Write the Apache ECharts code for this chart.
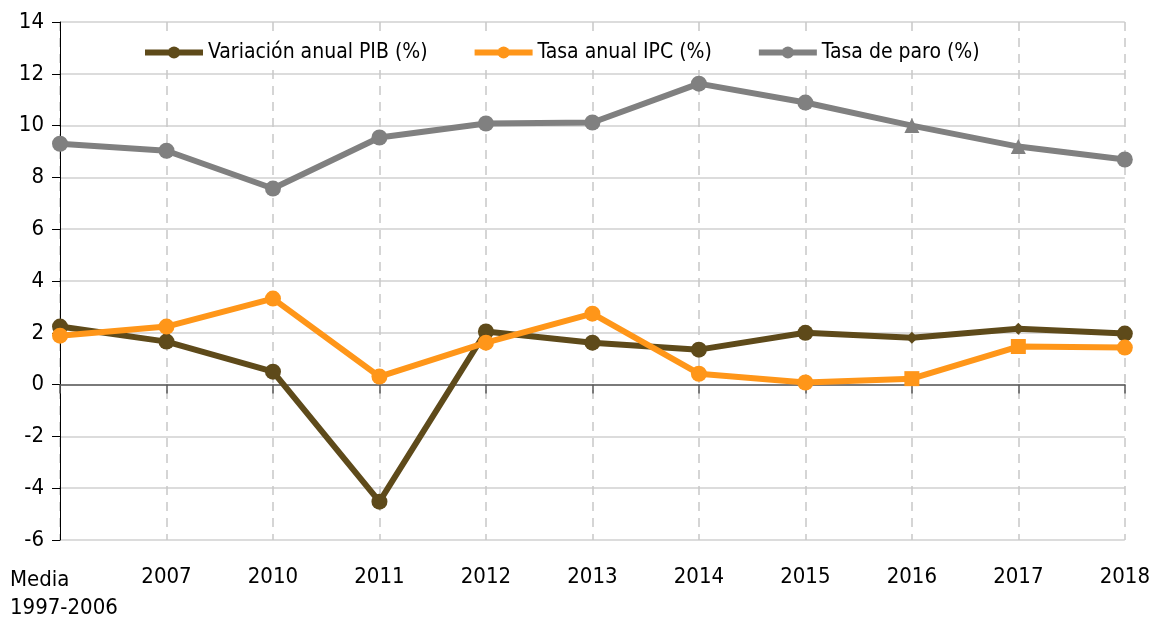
<!DOCTYPE html>
<html>
<head>
<meta charset="utf-8">
<script src="https://cdn.jsdelivr.net/npm/echarts@6/dist/echarts.min.js"></script>
<style>
  html, body { margin: 0; padding: 0; background: #fff; }
  #chart { width: 1153px; height: 619px; }
</style>
</head>
<body>
<div id="chart"></div>
<script>
var categories = ['Media\n1997-2006', '2007', '2010', '2011', '2012', '2013', '2014', '2015', '2016', '2017', '2018'];
var pib = [2.24, 1.66, 0.5, -4.52, 2.05, 1.62, 1.35, 2.0, 1.81, 2.16, 1.97];
var ipc = [1.89, 2.24, 3.32, 0.31, 1.62, 2.74, 0.42, 0.08, 0.23, 1.47, 1.43];
var paro = [9.3, 9.03, 7.57, 9.54, 10.08, 10.12, 11.62, 10.89, 10.0, 9.19, 8.69];
var yTicks = [-6, -4, -2, 0, 2, 4, 6, 8, 10, 12, 14];

var FONT = '"Liberation Sans Narrow", "DejaVu Sans Condensed", sans-serif';
var FS = 22;

// puntos 2016 y 2017 con otro marcador
function conMarcas(vals, simbolo, size) {
  return vals.map(function (v, i) {
    if (categories[i] === '2016' || categories[i] === '2017') {
      return { value: v, symbol: simbolo, symbolSize: size };
    }
    return v;
  });
}

var myChart = echarts.init(document.getElementById('chart'));
var option = {
  animation: false,
  backgroundColor: '#fff',
  textStyle: { fontFamily: FONT },
  legend: {
    top: 36,
    left: 130,
    padding: [6, 12],
    backgroundColor: '#fff',
    itemWidth: 58,
    itemHeight: 15,
    itemGap: 44,
    lineStyle: { width: 6 },
    textStyle: { fontSize: 21, color: '#000', fontFamily: FONT },
    data: ['Variación anual PIB (%)', 'Tasa anual IPC (%)', 'Tasa de paro (%)']
  },
  grid: { left: 60, right: 26, top: 22, bottom: 79 },
  xAxis: [{
    type: 'category',
    position: 'bottom',
    boundaryGap: false,
    data: categories,
    axisLine: { show: false, onZero: false },
    axisTick: { show: false },
    splitLine: { show: true, interval: 0, lineStyle: { color: '#c8c8c8', type: [9, 7], width: 1.5 } },
    axisLabel: {
      interval: 0,
      margin: 26,
      fontSize: FS,
      color: '#000',
      fontFamily: FONT,
      formatter: function (v, i) {
        if (i === 0) {
          return v.split('\n').map(function (s) { return '{a|' + s + '}'; }).join('\n');
        }
        return v;
      },
      rich: {
        a: { width: 100, align: 'left', fontSize: FS, color: '#000', fontFamily: FONT, lineHeight: 28 }
      }
    }
  }, {
    type: 'category',
    position: 'bottom',
    boundaryGap: false,
    data: categories,
    axisLine: { show: true, onZero: true, onZeroAxisIndex: 0, lineStyle: { color: '#595959', width: 1.5 } },
    axisTick: { show: true, interval: 0, length: 9, lineStyle: { color: '#595959', width: 1.5 } },
    axisLabel: { show: false },
    splitLine: { show: false }
  }],
  yAxis: {
    type: 'value',
    min: yTicks[0],
    max: yTicks[yTicks.length - 1],
    interval: 2,
    axisLine: { show: true, lineStyle: { color: '#000', width: 1 } },
    axisTick: { show: true, length: 8, lineStyle: { color: '#000' } },
    axisLabel: { margin: 16, fontSize: FS, color: '#000', fontFamily: FONT },
    splitLine: { show: true, lineStyle: { color: '#d0d0d0', width: 1.5 } }
  },
  series: [{
    name: 'Variación anual PIB (%)',
    type: 'line',
    data: conMarcas(pib, 'diamond', 12),
    symbol: 'circle',
    symbolSize: 16,
    lineStyle: { width: 6, color: '#5e4a1a' },
    itemStyle: { color: '#5e4a1a' },
    z: 3
  }, {
    name: 'Tasa anual IPC (%)',
    type: 'line',
    data: conMarcas(ipc, 'rect', 15),
    symbol: 'circle',
    symbolSize: 16,
    lineStyle: { width: 6, color: '#ff9619' },
    itemStyle: { color: '#ff9619' },
    z: 4
  }, {
    name: 'Tasa de paro (%)',
    type: 'line',
    data: conMarcas(paro, 'triangle', 15),
    symbol: 'circle',
    symbolSize: 16,
    lineStyle: { width: 6, color: '#808080' },
    itemStyle: { color: '#808080' },
    z: 3
  }]
};
myChart.setOption(option);
</script>
</body>
</html>
